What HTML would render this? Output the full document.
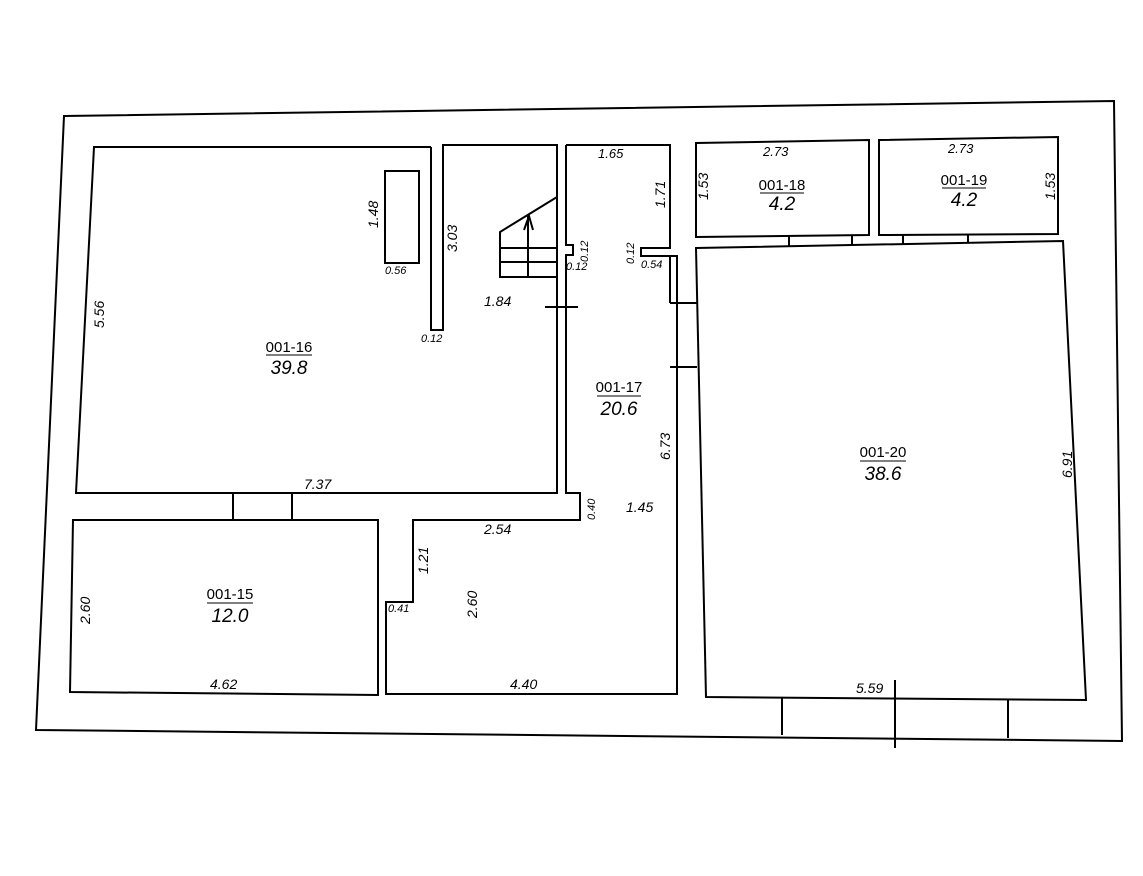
<!DOCTYPE html>
<html><head><style>body{margin:0;background:#fff}svg{display:block}text{font-family:"Liberation Sans",sans-serif;fill:#000}</style></head><body>
<svg width="1143" height="876" viewBox="0 0 1143 876" xmlns="http://www.w3.org/2000/svg">
<g fill="none" stroke="#000" stroke-width="2">
<polygon points="64,116 1114,101 1122,741 36,730"/>
<polyline points="431,147 94,147 76,493 557,493 557,145 443,145 443,330 431,330 431,147"/>
<rect x="385" y="171" width="34" height="92"/>
<polyline points="557,197 500,232 500,277 557,277"/>
<line x1="500" y1="248" x2="557" y2="248"/>
<line x1="500" y1="262" x2="557" y2="262"/>
<line x1="528" y1="215" x2="528" y2="277"/>
<polyline points="524,230 529,216 533,230"/>
<line x1="545" y1="307" x2="578" y2="307"/>
<polyline points="566,145 670,145 670,248 641,248 641,256 677,256 677,694 386,694 386,602 413,602 413,520 580,520 580,493 566,493 566,255 573,255 573,245 566,245 566,145"/>
<line x1="670" y1="256" x2="670" y2="303"/>
<line x1="670" y1="303" x2="697" y2="303"/>
<line x1="670" y1="367" x2="697" y2="367"/>
<polygon points="73,520 378,520 378,695 70,692"/>
<line x1="233" y1="493" x2="233" y2="520"/>
<line x1="292" y1="493" x2="292" y2="520"/>
<polygon points="696,143 869,140 869,235 696,237"/>
<polygon points="879,140 1058,137 1058,234 879,235"/>
<line x1="789" y1="236" x2="789" y2="246"/><line x1="852" y1="235" x2="852" y2="244"/>
<line x1="903" y1="235" x2="903" y2="244"/><line x1="968" y1="234" x2="968" y2="243"/>
<polygon points="696,248 1063,241 1086,700 706,697"/>
<line x1="782" y1="698" x2="782" y2="735"/>
<line x1="1008" y1="699" x2="1008" y2="738"/>
<line x1="895" y1="680" x2="895" y2="748"/>
</g>
<g font-size="14" font-style="italic">
<text x="304" y="489">7.37</text>
<text x="210" y="689">4.62</text>
<text x="510" y="689">4.40</text>
<text x="856" y="693">5.59</text>
<text x="484" y="534">2.54</text>
<text x="626" y="512">1.45</text>
<text x="484" y="306">1.84</text>
<text x="598" y="158" font-size="13">1.65</text>
<text x="763" y="156" font-size="13">2.73</text>
<text x="948" y="153" font-size="13">2.73</text>
<text x="385" y="274" font-size="11">0.56</text>
<text x="421" y="342" font-size="11">0.12</text>
<text x="566" y="270" font-size="11">0.12</text>
<text x="641" y="268" font-size="11">0.54</text>
<text x="388" y="612" font-size="11">0.41</text>
<g font-size="14">
<text transform="translate(104,328) rotate(-90)">5.56</text>
<text transform="translate(378,228) rotate(-90)">1.48</text>
<text transform="translate(457,252) rotate(-90)">3.03</text>
<text transform="translate(665,208) rotate(-90)">1.71</text>
<text transform="translate(670,460) rotate(-90)">6.73</text>
<text transform="translate(708,200) rotate(-90)">1.53</text>
<text transform="translate(1055,200) rotate(-90)">1.53</text>
<text transform="translate(1072,478) rotate(-90)">6.91</text>
<text transform="translate(90,624) rotate(-90)">2.60</text>
<text transform="translate(477,618) rotate(-90)">2.60</text>
<text transform="translate(428,574) rotate(-90)">1.21</text>
<text transform="translate(588,262) rotate(-90)" font-size="11">0.12</text>
<text transform="translate(634,264) rotate(-90)" font-size="11">0.12</text>
<text transform="translate(595,520) rotate(-90)" font-size="11">0.40</text>
</g></g>
<g text-anchor="middle">
<text x="289" y="352" font-size="15">001-16</text><line x1="266" y1="355" x2="312" y2="355" stroke="#000"/><text x="289" y="374" font-size="19" font-style="italic">39.8</text>
<text x="619" y="392" font-size="15">001-17</text><line x1="597" y1="396" x2="641" y2="396" stroke="#000"/><text x="619" y="415" font-size="19" font-style="italic">20.6</text>
<text x="230" y="599" font-size="15">001-15</text><line x1="207" y1="603" x2="253" y2="603" stroke="#000"/><text x="230" y="622" font-size="19" font-style="italic">12.0</text>
<text x="782" y="190" font-size="15">001-18</text><line x1="760" y1="193" x2="804" y2="193" stroke="#000"/><text x="782" y="210" font-size="19" font-style="italic">4.2</text>
<text x="964" y="185" font-size="15">001-19</text><line x1="942" y1="188" x2="986" y2="188" stroke="#000"/><text x="964" y="206" font-size="19" font-style="italic">4.2</text>
<text x="883" y="457" font-size="15">001-20</text><line x1="860" y1="461" x2="906" y2="461" stroke="#000"/><text x="883" y="480" font-size="19" font-style="italic">38.6</text>
</g>
</svg>
</body></html>
